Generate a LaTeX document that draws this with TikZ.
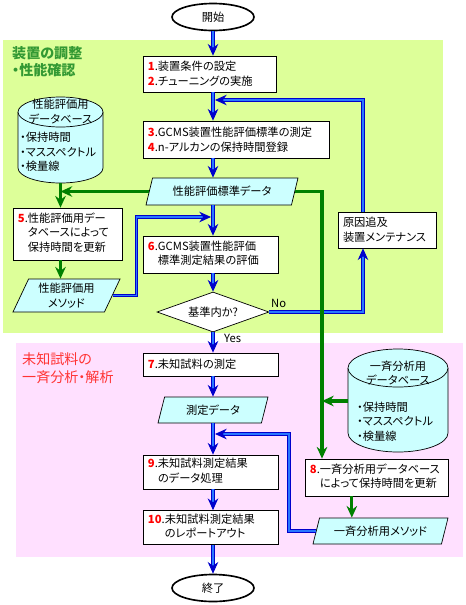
\documentclass[tikz,border=0pt]{standalone}
\usepackage{fontspec}
\setmainfont{Noto Sans CJK JP}[RawFeature=+palt]
\usepackage{tikz}
\usetikzlibrary{arrows.meta}
\usetikzlibrary{shapes.geometric}
\usetikzlibrary{calc,positioning}

\definecolor{bggreen}{RGB}{221,255,153}
\definecolor{bgpink}{RGB}{255,224,255}
\definecolor{datacyan}{RGB}{204,255,255}
\definecolor{flowblue}{RGB}{0,0,204}
\definecolor{flowlight}{RGB}{40,120,255}
\definecolor{flowgreen}{RGB}{0,128,0}
\definecolor{titlegreen}{RGB}{51,153,51}
\definecolor{titlered}{RGB}{255,51,51}

\newcommand{\stepnum}[1]{\textcolor{red}{\textbf{#1}}}

\begin{document}
\begin{tikzpicture}[x=0.03cm, y=-0.03cm,
    font=\fontsize{9.6}{12.5}\selectfont,
    procbox/.style={draw, fill=white, line width=0.6pt, align=left, inner xsep=0.15cm, inner ysep=2pt},
    databox/.style={trapezium, trapezium left angle=58, trapezium right angle=122, trapezium stretches body,
        draw, fill=datacyan, line width=0.6pt, inner sep=0pt, align=center},
    terminal/.style={ellipse, draw, fill=white, line width=1.4pt, minimum width=2.46cm, minimum height=0.81cm, inner sep=0pt},
    dbshape/.style={draw, fill=datacyan, line width=0.6pt},
    bluearrow/.style={draw=flowblue, double=flowlight, double distance=1.3pt, line width=0.85pt, -{Stealth[length=10pt,width=9pt]}},
    greenarrow/.style={draw=flowgreen, line width=2.6pt, -{Stealth[length=10pt,width=9pt]}},
]

    \useasboundingbox (0,0) rectangle (465,605);
    \fill[bggreen] (3,40) rectangle (443,333);
    \fill[bgpink] (16,343) rectangle (463,557);

    % region titles
    \node[anchor=north west, align=left, inner sep=0pt, text=titlegreen, font=\fontsize{12}{15}\selectfont\bfseries] (adjtitle) at (12,46) {装置の調整\\・性能確認};
    \node[anchor=north west, align=left, inner sep=0pt, text=titlered, font=\fontsize{12}{16}\selectfont] (unktitle) at (22,352) {未知試料の\\一斉分析・解析};

    % databases
    \filldraw[dbshape] (18,112) -- (18,168) arc[start angle=180, end angle=0, x radius=42.5, y radius=15] -- (103,112);
    \filldraw[dbshape] (60.5,112) ellipse[x radius=42.5, y radius=15];
    \node[align=center, inner sep=0pt] (db1) at (60.5,111.5) {性能評価用\\データベース};
    \node[anchor=west, align=left, inner sep=0pt] (db1list) at (20,152) {・保持時間\\・マススペクトル\\・検量線};
    \coordinate (db1bot) at (60.5,183);

    \filldraw[dbshape] (348,368) -- (348,433) arc[start angle=180, end angle=0, x radius=50, y radius=19] -- (448,368);
    \filldraw[dbshape] (398,368) ellipse[x radius=50, y radius=19];
    \node[align=center, inner sep=0pt] (db2) at (398,373) {一斉分析用\\データベース};
    \node[anchor=west, align=left, inner sep=0pt] (db2list) at (357,421.5) {・保持時間\\・マススペクトル\\・検量線};
    \coordinate (db2side) at (348,401);

    % main flow
    \node[terminal] (start) at (213,17) {開始};
    \node[procbox, text width=3.69cm, minimum height=1.08cm] (b12) at (209.5,74) {\stepnum{1}.装置条件の設定\\\stepnum{2}.チューニングの実施};
    \node[procbox, text width=5.28cm, minimum height=1.11cm] (b34) at (236,139.5) {\stepnum{3}.GCMS装置性能評価標準の測定\\\stepnum{4}.n-アルカンの保持時間登録};
    \node[databox, minimum width=4.56cm, minimum height=0.81cm] (std) at (222,191.5) {性能評価標準データ};
    \node[procbox, text width=2.97cm, minimum height=1.56cm] (b5) at (67.5,234) {\begin{tabular}{@{}l@{}l@{}}\stepnum{5}.&性能評価用デー\\&タベースによって\\&保持時間を更新\end{tabular}};
    \node[databox, minimum width=3.21cm, minimum height=0.99cm] (meth1) at (66.5,295.5) {性能評価用\\メソッド};
    \node[procbox, text width=3.75cm, minimum height=1.11cm] (b6) at (210.5,254.5) {\begin{tabular}{@{}l@{}l@{}}\stepnum{6}.&GCMS装置性能評価\\&標準測定結果の評価\end{tabular}};
    \node[diamond, draw, fill=white, line width=0.6pt, aspect=2.8, inner sep=0pt, minimum width=3.36cm, minimum height=1.2cm] (check) at (213,312) {基準内か?};
    \node[procbox, text width=2.64cm, minimum height=1.08cm] (maint) at (387,230) {原因追及\\装置メンテナンス};
    \node[procbox, text width=3.75cm, minimum height=0.69cm] (b7) at (210.5,364.5) {\stepnum{7}.未知試料の測定};
    \node[databox, minimum width=3.3cm, minimum height=0.78cm] (meas) at (213,410) {測定データ};
    \node[procbox, text width=3.75cm, minimum height=1.02cm] (b9) at (210.5,472) {\begin{tabular}{@{}l@{}l@{}}\stepnum{9}.&未知試料測定結果\\&のデータ処理\end{tabular}};
    \node[procbox, text width=3.75cm, minimum height=0.99cm] (b10) at (210.5,527.5) {\begin{tabular}{@{}l@{}l@{}}\stepnum{10}.&未知試料測定結果\\&のレポートアウト\end{tabular}};
    \node[terminal] (stop) at (213,588) {終了};
    \node[procbox, text width=3.99cm, minimum height=1.11cm] (b8) at (376.5,477.5) {\begin{tabular}{@{}l@{}l@{}}\stepnum{8}.&一斉分析用データベース\\&によって保持時間を更新\end{tabular}};
    \node[databox, minimum width=4.05cm, minimum height=0.78cm] (meth2) at (380.5,531) {一斉分析用メソッド};

    \coordinate (tune) at (215,100);
    \coordinate (evalin) at (211,217);
    \coordinate (procin) at (215,434);
    \coordinate (grnline) at (322,193);

    % blue connectors
    \draw[bluearrow] (start) -- (start |- b12.north);
    \draw[bluearrow] (b12.south -| start) -- (b34.north -| start);
    \draw[bluearrow] (b34.south -| start) -- (std.north -| start);
    \draw[bluearrow] (std.south -| start) -- (b6.north -| start);
    \draw[bluearrow] (b6.south -| start) -- (check.north);
    \draw[bluearrow] (check.south) -- node[pos=0.3, right=0.2cm]{Yes} (b7.north -| check);
    \draw[bluearrow] (b7.south -| start) -- (meas.north -| start);
    \draw[bluearrow] (meas.south -| start) -- (b9.north -| start);
    \draw[bluearrow] (b9.south -| start) -- (b10.north -| start);
    \draw[bluearrow] (b10.south -| start) -- (stop);
    \draw[bluearrow] (check.east) -| node[above, pos=0.05]{No} ([xshift=-0.72cm]maint.south);
    \draw[bluearrow] ([xshift=-0.72cm]maint.north) |- (tune);
    \draw[bluearrow] (meth1.right side) -- ++(24,0) |- (evalin);
    \draw[bluearrow] (meth2.left side) -- ++(-27,0) |- (procin);

    % green connectors
    \draw[greenarrow] (std.left side) -- (std.left side -| db1);
    \draw[greenarrow] (db1bot) -- (db1bot |- b5.north);
    \draw[greenarrow] (b5.south -| db1bot) -- (meth1.north -| db1bot);
    \draw[greenarrow] (std.right side) -| (grnline |- b8.north);
    \draw[greenarrow] (db2side) -- (db2side -| grnline);
    \draw[greenarrow] ([xshift=-0.74cm]b8.south) -- ([xshift=-0.74cm]b8.south |- meth2.north);

\end{tikzpicture}
\end{document}
